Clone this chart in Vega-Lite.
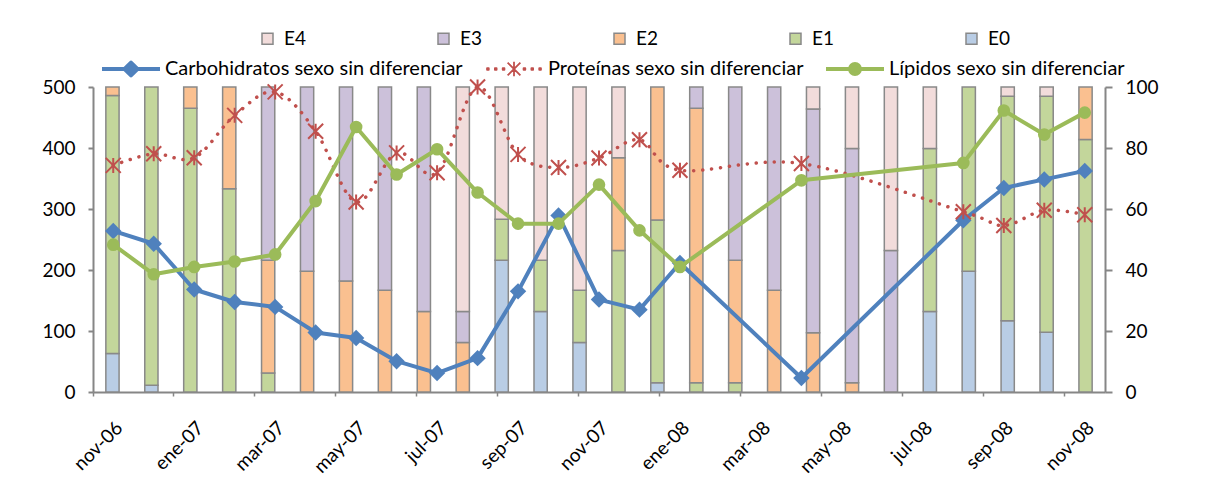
{
  "$schema": "https://vega.github.io/schema/vega-lite/v6.json",
  "width": 1012,
  "height": 305,
  "autosize": {"type": "none"},
  "padding": {"left": 93, "top": 87, "right": 104, "bottom": 97},
  "background": "white",
  "config": {
    "view": {"stroke": null},
    "font": "Lato",
    "axis": {"labelFont": "Lato", "labelColor": "#000000", "grid": false, "title": null},
    "legend": {"labelFont": "Lato", "labelColor": "#000000", "labelLimit": 500}
  },
  "datasets": {
    "barras": [
      {"mes": "nov-06", "estadio": "E0", "valor": 63}, {"mes": "nov-06", "estadio": "E1", "valor": 423}, {"mes": "nov-06", "estadio": "E2", "valor": 14},
      {"mes": "dic-06", "estadio": "E0", "valor": 11}, {"mes": "dic-06", "estadio": "E1", "valor": 489},
      {"mes": "ene-07", "estadio": "E1", "valor": 465}, {"mes": "ene-07", "estadio": "E2", "valor": 35},
      {"mes": "feb-07", "estadio": "E1", "valor": 333}, {"mes": "feb-07", "estadio": "E2", "valor": 167},
      {"mes": "mar-07", "estadio": "E1", "valor": 31}, {"mes": "mar-07", "estadio": "E2", "valor": 185}, {"mes": "mar-07", "estadio": "E3", "valor": 284},
      {"mes": "abr-07", "estadio": "E2", "valor": 198}, {"mes": "abr-07", "estadio": "E3", "valor": 302},
      {"mes": "may-07", "estadio": "E2", "valor": 182}, {"mes": "may-07", "estadio": "E3", "valor": 318},
      {"mes": "jun-07", "estadio": "E2", "valor": 167}, {"mes": "jun-07", "estadio": "E3", "valor": 333},
      {"mes": "jul-07", "estadio": "E2", "valor": 132}, {"mes": "jul-07", "estadio": "E3", "valor": 368},
      {"mes": "ago-07", "estadio": "E2", "valor": 81}, {"mes": "ago-07", "estadio": "E3", "valor": 51}, {"mes": "ago-07", "estadio": "E4", "valor": 368},
      {"mes": "sep-07", "estadio": "E0", "valor": 216}, {"mes": "sep-07", "estadio": "E1", "valor": 67}, {"mes": "sep-07", "estadio": "E4", "valor": 217},
      {"mes": "oct-07", "estadio": "E0", "valor": 132}, {"mes": "oct-07", "estadio": "E1", "valor": 84}, {"mes": "oct-07", "estadio": "E4", "valor": 284},
      {"mes": "nov-07", "estadio": "E0", "valor": 81}, {"mes": "nov-07", "estadio": "E1", "valor": 86}, {"mes": "nov-07", "estadio": "E4", "valor": 333},
      {"mes": "dic-07", "estadio": "E1", "valor": 232}, {"mes": "dic-07", "estadio": "E2", "valor": 152}, {"mes": "dic-07", "estadio": "E4", "valor": 116},
      {"mes": "ene-08", "estadio": "E0", "valor": 15}, {"mes": "ene-08", "estadio": "E1", "valor": 267}, {"mes": "ene-08", "estadio": "E2", "valor": 218},
      {"mes": "feb-08", "estadio": "E1", "valor": 15}, {"mes": "feb-08", "estadio": "E2", "valor": 450}, {"mes": "feb-08", "estadio": "E3", "valor": 35},
      {"mes": "mar-08", "estadio": "E1", "valor": 15}, {"mes": "mar-08", "estadio": "E2", "valor": 201}, {"mes": "mar-08", "estadio": "E3", "valor": 284},
      {"mes": "abr-08", "estadio": "E2", "valor": 167}, {"mes": "abr-08", "estadio": "E3", "valor": 333},
      {"mes": "may-08", "estadio": "E2", "valor": 97}, {"mes": "may-08", "estadio": "E3", "valor": 367}, {"mes": "may-08", "estadio": "E4", "valor": 36},
      {"mes": "jun-08", "estadio": "E2", "valor": 15}, {"mes": "jun-08", "estadio": "E3", "valor": 384}, {"mes": "jun-08", "estadio": "E4", "valor": 101},
      {"mes": "jul-08", "estadio": "E3", "valor": 232}, {"mes": "jul-08", "estadio": "E4", "valor": 268},
      {"mes": "ago-08", "estadio": "E0", "valor": 132}, {"mes": "ago-08", "estadio": "E1", "valor": 267}, {"mes": "ago-08", "estadio": "E4", "valor": 101},
      {"mes": "sep-08", "estadio": "E0", "valor": 198}, {"mes": "sep-08", "estadio": "E1", "valor": 302},
      {"mes": "oct-08", "estadio": "E0", "valor": 117}, {"mes": "oct-08", "estadio": "E1", "valor": 368}, {"mes": "oct-08", "estadio": "E4", "valor": 15},
      {"mes": "nov-08", "estadio": "E0", "valor": 98}, {"mes": "nov-08", "estadio": "E1", "valor": 387}, {"mes": "nov-08", "estadio": "E4", "valor": 15},
      {"mes": "dic-08", "estadio": "E1", "valor": 414}, {"mes": "dic-08", "estadio": "E2", "valor": 86}
    ],
    "lineas": [
      {"mes": "nov-06", "serie": "Carbohidratos sexo sin diferenciar", "valor": 52.8},
      {"mes": "dic-06", "serie": "Carbohidratos sexo sin diferenciar", "valor": 48.6},
      {"mes": "ene-07", "serie": "Carbohidratos sexo sin diferenciar", "valor": 33.6},
      {"mes": "feb-07", "serie": "Carbohidratos sexo sin diferenciar", "valor": 29.5},
      {"mes": "mar-07", "serie": "Carbohidratos sexo sin diferenciar", "valor": 27.9},
      {"mes": "abr-07", "serie": "Carbohidratos sexo sin diferenciar", "valor": 19.5},
      {"mes": "may-07", "serie": "Carbohidratos sexo sin diferenciar", "valor": 17.7},
      {"mes": "jun-07", "serie": "Carbohidratos sexo sin diferenciar", "valor": 10.1},
      {"mes": "jul-07", "serie": "Carbohidratos sexo sin diferenciar", "valor": 6.2},
      {"mes": "ago-07", "serie": "Carbohidratos sexo sin diferenciar", "valor": 11.1},
      {"mes": "sep-07", "serie": "Carbohidratos sexo sin diferenciar", "valor": 33.0},
      {"mes": "oct-07", "serie": "Carbohidratos sexo sin diferenciar", "valor": 57.9},
      {"mes": "nov-07", "serie": "Carbohidratos sexo sin diferenciar", "valor": 30.3},
      {"mes": "dic-07", "serie": "Carbohidratos sexo sin diferenciar", "valor": 27.0},
      {"mes": "ene-08", "serie": "Carbohidratos sexo sin diferenciar", "valor": 42.3},
      {"mes": "abr-08", "serie": "Carbohidratos sexo sin diferenciar", "valor": 4.6},
      {"mes": "ago-08", "serie": "Carbohidratos sexo sin diferenciar", "valor": 56.3},
      {"mes": "sep-08", "serie": "Carbohidratos sexo sin diferenciar", "valor": 66.9},
      {"mes": "oct-08", "serie": "Carbohidratos sexo sin diferenciar", "valor": 69.7},
      {"mes": "nov-08", "serie": "Carbohidratos sexo sin diferenciar", "valor": 72.5},
      {"mes": "nov-06", "serie": "Proteínas sexo sin diferenciar", "valor": 74.3},
      {"mes": "dic-06", "serie": "Proteínas sexo sin diferenciar", "valor": 78.1},
      {"mes": "ene-07", "serie": "Proteínas sexo sin diferenciar", "valor": 76.8},
      {"mes": "feb-07", "serie": "Proteínas sexo sin diferenciar", "valor": 90.7},
      {"mes": "mar-07", "serie": "Proteínas sexo sin diferenciar", "valor": 98.4},
      {"mes": "abr-07", "serie": "Proteínas sexo sin diferenciar", "valor": 85.5},
      {"mes": "may-07", "serie": "Proteínas sexo sin diferenciar", "valor": 62.3},
      {"mes": "jun-07", "serie": "Proteínas sexo sin diferenciar", "valor": 78.4},
      {"mes": "jul-07", "serie": "Proteínas sexo sin diferenciar", "valor": 71.9},
      {"mes": "ago-07", "serie": "Proteínas sexo sin diferenciar", "valor": 100},
      {"mes": "sep-07", "serie": "Proteínas sexo sin diferenciar", "valor": 77.9},
      {"mes": "oct-07", "serie": "Proteínas sexo sin diferenciar", "valor": 73.6},
      {"mes": "nov-07", "serie": "Proteínas sexo sin diferenciar", "valor": 76.7},
      {"mes": "dic-07", "serie": "Proteínas sexo sin diferenciar", "valor": 82.7},
      {"mes": "ene-08", "serie": "Proteínas sexo sin diferenciar", "valor": 72.7},
      {"mes": "abr-08", "serie": "Proteínas sexo sin diferenciar", "valor": 74.9},
      {"mes": "ago-08", "serie": "Proteínas sexo sin diferenciar", "valor": 59.1},
      {"mes": "sep-08", "serie": "Proteínas sexo sin diferenciar", "valor": 54.6},
      {"mes": "oct-08", "serie": "Proteínas sexo sin diferenciar", "valor": 59.6},
      {"mes": "nov-08", "serie": "Proteínas sexo sin diferenciar", "valor": 58.1},
      {"mes": "nov-06", "serie": "Lípidos sexo sin diferenciar", "valor": 48.3},
      {"mes": "dic-06", "serie": "Lípidos sexo sin diferenciar", "valor": 38.6},
      {"mes": "ene-07", "serie": "Lípidos sexo sin diferenciar", "valor": 41.0},
      {"mes": "feb-07", "serie": "Lípidos sexo sin diferenciar", "valor": 42.8},
      {"mes": "mar-07", "serie": "Lípidos sexo sin diferenciar", "valor": 45.1},
      {"mes": "abr-07", "serie": "Lípidos sexo sin diferenciar", "valor": 62.6},
      {"mes": "may-07", "serie": "Lípidos sexo sin diferenciar", "valor": 86.9},
      {"mes": "jun-07", "serie": "Lípidos sexo sin diferenciar", "valor": 71.3},
      {"mes": "jul-07", "serie": "Lípidos sexo sin diferenciar", "valor": 79.6},
      {"mes": "ago-07", "serie": "Lípidos sexo sin diferenciar", "valor": 65.4},
      {"mes": "sep-07", "serie": "Lípidos sexo sin diferenciar", "valor": 55.2},
      {"mes": "oct-07", "serie": "Lípidos sexo sin diferenciar", "valor": 55.2},
      {"mes": "nov-07", "serie": "Lípidos sexo sin diferenciar", "valor": 68.0},
      {"mes": "dic-07", "serie": "Lípidos sexo sin diferenciar", "valor": 53.0},
      {"mes": "ene-08", "serie": "Lípidos sexo sin diferenciar", "valor": 41.0},
      {"mes": "abr-08", "serie": "Lípidos sexo sin diferenciar", "valor": 69.4},
      {"mes": "ago-08", "serie": "Lípidos sexo sin diferenciar", "valor": 75.1},
      {"mes": "sep-08", "serie": "Lípidos sexo sin diferenciar", "valor": 92.3},
      {"mes": "oct-08", "serie": "Lípidos sexo sin diferenciar", "valor": 84.4},
      {"mes": "nov-08", "serie": "Lípidos sexo sin diferenciar", "valor": 91.6}
    ]
  },
  "layer": [
    {
      "data": {"name": "barras"},
      "mark": {"type": "bar", "stroke": "#898989", "strokeWidth": 1.5, "width": {"band": 0.34}},
      "encoding": {
        "x": {"field": "mes", "type": "ordinal", "sort": null,
              "scale": {"type": "band", "paddingInner": 0, "paddingOuter": 0}, "axis": null},
        "y": {"field": "valor", "type": "quantitative", "stack": "zero",
              "scale": {"domain": [0, 500], "nice": false},
              "axis": {"orient": "left", "values": [0, 100, 200, 300, 400, 500],
                       "domainColor": "#868686", "domainWidth": 2, "tickColor": "#868686", "tickWidth": 2,
                       "tickSize": 5, "labelPadding": 13, "labelFontSize": 19}},
        "color": {"field": "estadio", "type": "nominal",
                  "scale": {"domain": ["E4", "E3", "E2", "E1", "E0"],
                            "range": ["#f2dcdb", "#ccc1da", "#fac090", "#c3d69b", "#b9cde5"]},
                  "legend": {"orient": "none", "legendX": 165, "legendY": -58, "direction": "horizontal",
                             "title": null, "padding": 0, "symbolType": "square", "symbolSize": 121,
                             "labelFontSize": 19, "labelOffset": 7, "columnPadding": 128,
                             "encode": {"symbols": {"update": {"stroke": {"value": "#898989"}, "strokeWidth": {"value": 1.5}}}}}},
        "order": {"field": "estadio", "sort": "ascending"}
      }
    },
    {
      "data": {"name": "lineas"},
      "encoding": {
        "x": {"field": "mes", "type": "ordinal",
              "scale": {"type": "band", "paddingInner": 0, "paddingOuter": 0,
                        "domain": ["nov-06", "dic-06", "ene-07", "feb-07", "mar-07", "abr-07", "may-07", "jun-07", "jul-07", "ago-07", "sep-07", "oct-07", "nov-07", "dic-07", "ene-08", "feb-08", "mar-08", "abr-08", "may-08", "jun-08", "jul-08", "ago-08", "sep-08", "oct-08", "nov-08"]},
              "axis": {"orient": "bottom", "bandPosition": 0,
                       "values": ["nov-06", "ene-07", "mar-07", "may-07", "jul-07", "sep-07", "nov-07", "ene-08", "mar-08", "may-08", "jul-08", "sep-08", "nov-08"],
                       "domainColor": "#868686", "domainWidth": 2, "tickColor": "#868686", "tickWidth": 1.5,
                       "tickSize": 4, "labelAngle": -45, "labelAlign": "right", "labelBaseline": "top",
                       "labelPadding": 22, "labelFontSize": 19, "labelOverlap": false}},
        "y": {"field": "valor", "type": "quantitative",
              "scale": {"domain": [0, 100], "nice": false},
              "axis": {"orient": "right", "values": [0, 20, 40, 60, 80, 100],
                       "domainColor": "#868686", "domainWidth": 2, "tickColor": "#868686", "tickWidth": 2,
                       "tickSize": 7, "labelPadding": 13, "labelFontSize": 19}}
      },
      "layer": [
        {
          "transform": [{"filter": "datum.serie === 'Carbohidratos sexo sin diferenciar'"}],
          "mark": {"type": "line", "strokeWidth": 4, "strokeJoin": "round"},
          "encoding": {
            "stroke": {"field": "serie", "type": "nominal",
                       "scale": {"domain": ["Carbohidratos sexo sin diferenciar", "Proteínas sexo sin diferenciar", "Lípidos sexo sin diferenciar"],
                                 "range": ["#4f81bd", "#c0504d", "#9bbb59"]},
                       "legend": {"orient": "none", "legendX": 7, "legendY": -28, "direction": "horizontal",
                                  "title": null, "padding": 0, "symbolSize": 3364, "labelFontSize": 20,
                                  "symbolOffset": 21, "labelOffset": 24, "columnPadding": 20,
                                  "encode": {"symbols": {"update": {
                                    "shape": {"signal": "datum.index === 0 ? 'M-1,0L1,0M-0.22,0L0,-0.22L0.22,0L0,0.22Z' : datum.index === 1 ? 'M-0.93,-0.03h0.06v0.06h-0.06ZM-0.66,-0.03h0.06v0.06h-0.06ZM-0.39,-0.03h0.06v0.06h-0.06ZM0.33,-0.03h0.06v0.06h-0.06ZM0.6,-0.03h0.06v0.06h-0.06ZM0.87,-0.03h0.06v0.06h-0.06ZM-0.22,-0.22L0.22,0.22M-0.22,0.22L0.22,-0.22M0,-0.25L0,0.25' : 'M-1,0L1,0M0.17,0A0.17,0.17,0,1,1,-0.17,0A0.17,0.17,0,1,1,0.17,0Z'"},
                                    "fill": {"signal": "datum.index === 0 ? '#4f81bd' : datum.index === 1 ? '#c0504d' : '#9bbb59'"},
                                    "stroke": {"signal": "datum.index === 0 ? '#4f81bd' : datum.index === 1 ? '#c0504d' : '#9bbb59'"},
                                    "strokeWidth": {"signal": "datum.index === 1 ? 1.8 : 4"},
                                    "strokeJoin": {"value": "round"},
                                    "strokeDash": {"value": []}
                                  }}}}}
          }
        },
        {
          "transform": [{"filter": "datum.serie === 'Carbohidratos sexo sin diferenciar'"}],
          "mark": {"type": "point", "shape": "diamond", "filled": true, "size": 270, "color": "#4f81bd", "opacity": 1}
        },
        {
          "transform": [{"filter": "datum.serie === 'Proteínas sexo sin diferenciar'"}],
          "mark": {"type": "line", "interpolate": "cardinal", "stroke": "#c0504d", "strokeWidth": 3.5,
                   "strokeDash": [0.1, 8.9], "strokeCap": "round"}
        },
        {
          "transform": [{"filter": "datum.serie === 'Proteínas sexo sin diferenciar'"}],
          "mark": {"type": "point", "shape": "M-1,-1L1,1M-1,1L1,-1M0,-1L0,1", "filled": false, "size": 225,
                   "stroke": "#c0504d", "strokeWidth": 2, "opacity": 1}
        },
        {
          "transform": [{"filter": "datum.serie === 'Lípidos sexo sin diferenciar'"}],
          "mark": {"type": "line", "stroke": "#9bbb59", "strokeWidth": 4, "strokeJoin": "round"}
        },
        {
          "transform": [{"filter": "datum.serie === 'Lípidos sexo sin diferenciar'"}],
          "mark": {"type": "point", "shape": "circle", "filled": true, "size": 160, "color": "#9bbb59", "opacity": 1}
        }
      ]
    }
  ],
  "resolve": {
    "scale": {"x": "independent", "y": "independent"},
    "axis": {"x": "independent", "y": "independent"}
  }
}
